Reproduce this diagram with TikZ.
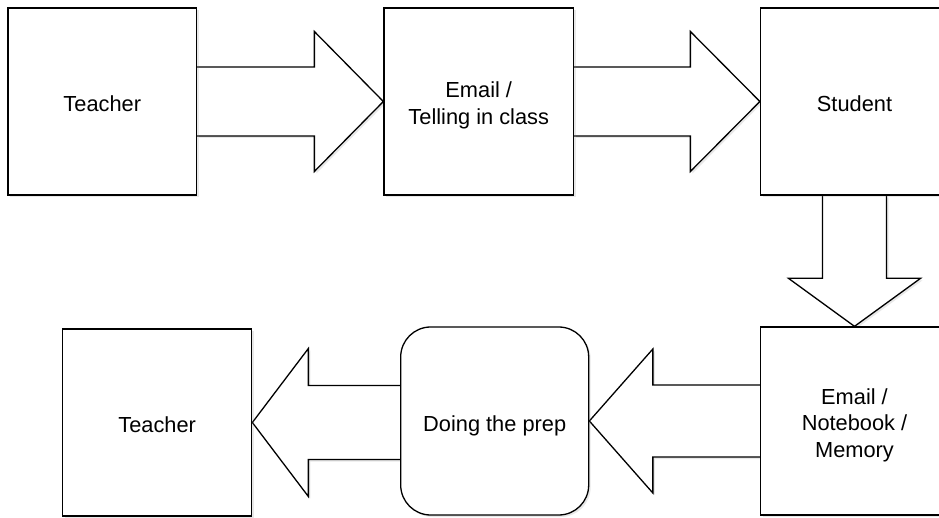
\documentclass[tikz,border=0pt]{standalone}
\usepackage{fontspec}
\setmainfont{Liberation Sans}
\usetikzlibrary{calc,shadows,backgrounds}
\tikzset{
  box/.style={draw=black, line width=1.3pt, fill=white, inner sep=0pt, align=center,
    font=\fontsize{21.8}{26.7}\selectfont,
    drop shadow={opacity=0.18, shadow xshift=2pt, shadow yshift=-2pt}},
  rbox/.style={box, rounded corners=30pt},
  arrowbody/.style={draw=black, line width=1.3pt, fill=white, line join=miter,
    drop shadow={opacity=0.18, shadow xshift=2pt, shadow yshift=-2pt}}
}
% top strut that lowers the text block inside its box
\newcommand{\topstrut}[1]{\rule{0pt}{#1}}
% horizontal block arrow: #1 start, #2 tip, #3 shaft half, #4 head half, #5 head length (signed)
\newcommand{\myarrowH}[5]{%
  \path[arrowbody] let \p1=(#1), \p2=(#2) in
    (\x1,\y2+#3) -- (\x2-#5,\y2+#3) -- (\x2-#5,\y2+#4) -- (\x2,\y2)
    -- (\x2-#5,\y2-#4) -- (\x2-#5,\y2-#3) -- (\x1,\y2-#3);}
\newcommand{\myarrowV}[5]{%
  \path[arrowbody] let \p1=(#1), \p2=(#2) in
    (\x2-#3,\y1) -- (\x2-#3,\y2+#5) -- (\x2-#4,\y2+#5) -- (\x2,\y2)
    -- (\x2+#4,\y2+#5) -- (\x2+#3,\y2+#5) -- (\x2+#3,\y1);}
\begin{document}
\begin{tikzpicture}[x=1pt,y=-1pt]
\useasboundingbox (0,0) rectangle (939,518);
% nodes
\node[box, minimum width=188.5pt, minimum height=187pt] (t1) at (102.25,101.5) {\topstrut{20pt}Teacher};
\node[box, minimum width=189.5pt, minimum height=187pt] (e1) at (478.75,101.5) {\topstrut{23.7pt}Email /\\Telling in class};
\node[box, minimum width=188pt, minimum height=187pt] (s) at (854.5,101.5) {\topstrut{20pt}Student};
\node[box, minimum width=188pt, minimum height=188pt] (n) at (854.5,421) {\topstrut{24pt}Email /\\Notebook /\\Memory};
\node[rbox, minimum width=188pt, minimum height=188pt] (d) at (494.7,421) {\topstrut{24.6pt}Doing the prep};
\node[box, minimum width=189pt, minimum height=187pt] (t2) at (157.2,422.5) {\topstrut{20pt}Teacher};
% block arrows (behind the boxes)
\begin{pgfonlayer}{background}
\fill[white] (0,0) rectangle (939,518);
\coordinate (a1s) at (t1.east);
\coordinate (a1t) at (e1.west);
\myarrowH{a1s}{a1t}{34.5pt}{70pt}{69pt}
\coordinate (a2s) at (e1.east);
\coordinate (a2t) at (s.west);
\myarrowH{a2s}{a2t}{34.5pt}{70pt}{69.5pt}
\coordinate (a3s) at (s.south);
\coordinate (a3t) at (n.north);
\myarrowV{a3s}{a3t}{32pt}{66pt}{48pt}
\coordinate (a4s) at (n.west);
\coordinate (a4t) at (d.east);
\myarrowH{a4s}{a4t}{36pt}{72pt}{-63.5pt}
\coordinate (a5s) at (d.west);
\coordinate (a5t) at (t2.east);
\myarrowH{a5s}{a5t}{37pt}{74pt}{-56pt}
\end{pgfonlayer}
\end{tikzpicture}
\end{document}
